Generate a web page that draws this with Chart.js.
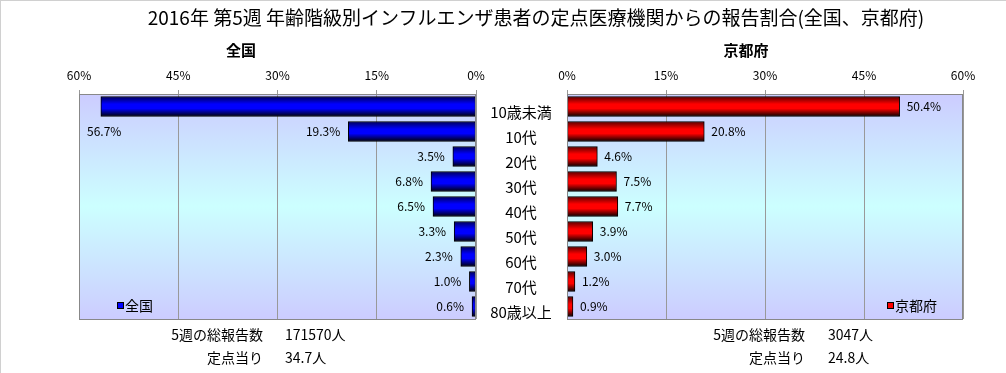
<!DOCTYPE html>
<html>
<head>
<meta charset="utf-8">
<script src="https://cdn.jsdelivr.net/npm/chart.js@4/dist/chart.umd.min.js"></script>
<style>
  body { margin: 0; background: #fff; }
  #wrap { position: relative; width: 1006px; height: 373px; overflow: hidden;
          font-family: "Noto Sans CJK JP", sans-serif; color: #000; }
  #wrap canvas { position: absolute; left: 0; top: 0; }
  .txt { position: absolute; white-space: nowrap; line-height: 1; }
  .frame { position: absolute; left: 0; top: 0; width: 1006px; height: 373px;
           border-top: 1px solid #d0d0d0; border-left: 1px solid #d0d0d0; box-sizing: border-box; }
</style>
</head>
<body>
<div id="wrap">
  <div class="frame"></div>
  <canvas id="left" width="1006" height="373"></canvas>
  <canvas id="right" width="1006" height="373"></canvas>
  <div class="txt" id="title" style="left:0;width:1072px;text-align:center;top:7px;font-size:19px;"></div>
  <div class="txt" id="subL" style="left:191px;width:100px;text-align:center;top:42px;font-size:15px;font-weight:bold;"></div>
  <div class="txt" id="subR" style="left:696px;width:100px;text-align:center;top:42px;font-size:15px;font-weight:bold;"></div>
  <div class="txt" id="sumL1" style="left:100px;width:163px;text-align:right;top:327px;font-size:14px;"></div>
  <div class="txt" id="valL1" style="left:285px;top:327px;font-size:14px;"></div>
  <div class="txt" id="sumL2" style="left:100px;width:163px;text-align:right;top:350px;font-size:14px;"></div>
  <div class="txt" id="valL2" style="left:285px;top:350px;font-size:14px;"></div>
  <div class="txt" id="sumR1" style="left:600px;width:205px;text-align:right;top:327px;font-size:14px;"></div>
  <div class="txt" id="valR1" style="left:828px;top:327px;font-size:14px;"></div>
  <div class="txt" id="sumR2" style="left:600px;width:205px;text-align:right;top:350px;font-size:14px;"></div>
  <div class="txt" id="valR2" style="left:828px;top:350px;font-size:14px;"></div>
</div>
<script>
// データ
const titulo = "2016年 第5週 年齢階級別インフルエンザ患者の定点医療機関からの報告割合(全国、京都府)";
const categorias = ["10歳未満", "10代", "20代", "30代", "40代", "50代", "60代", "70代", "80歳以上"];
const zenkoku = [56.7, 19.3, 3.5, 6.8, 6.5, 3.3, 2.3, 1.0, 0.6];
const kyoto = [50.4, 20.8, 4.6, 7.5, 7.7, 3.9, 3.0, 1.2, 0.9];
const etiquetasResumen = ["5週の総報告数", "定点当り"];
const resumenZenkoku = ["171570人", "34.7人"];
const resumenKyoto = ["3047人", "24.8人"];

const FONT = "Noto Sans CJK JP";

document.getElementById("title").textContent = titulo;
document.getElementById("subL").textContent = "全国";
document.getElementById("subR").textContent = "京都府";
document.getElementById("sumL1").textContent = etiquetasResumen[0];
document.getElementById("sumL2").textContent = etiquetasResumen[1];
document.getElementById("sumR1").textContent = etiquetasResumen[0];
document.getElementById("sumR2").textContent = etiquetasResumen[1];
document.getElementById("valL1").textContent = resumenZenkoku[0];
document.getElementById("valL2").textContent = resumenZenkoku[1];
document.getElementById("valR1").textContent = resumenKyoto[0];
document.getElementById("valR2").textContent = resumenKyoto[1];

// degradado vertical de cada barra (oscuro - brillante - oscuro)
function degradadoBarra(context, colores) {
  const chart = context.chart;
  if (!chart.chartArea || context.type !== "data") return colores[1];
  const y = chart.scales.y.getPixelForValue(context.dataIndex);
  const g = chart.ctx.createLinearGradient(0, y - 10, 0, y + 10);
  g.addColorStop(0, colores[0]);
  g.addColorStop(0.38, colores[1]);
  g.addColorStop(0.6, colores[1]);
  g.addColorStop(1, colores[2]);
  return g;
}

// fondo del área del gráfico + borde
const fondoPlugin = {
  id: "fondo",
  beforeDraw(chart) {
    const { ctx, chartArea: a } = chart;
    const g = ctx.createLinearGradient(0, a.top, 0, a.bottom);
    g.addColorStop(0, "#ccccff");
    g.addColorStop(0.5, "#ccffff");
    g.addColorStop(1, "#ccccff");
    ctx.save();
    ctx.fillStyle = g;
    ctx.fillRect(a.left, a.top, a.right - a.left, a.bottom - a.top);
    ctx.restore();
  },
  afterDraw(chart) {
    const { ctx, chartArea: a } = chart;
    ctx.save();
    ctx.strokeStyle = "#888888";
    ctx.lineWidth = 1;
    ctx.strokeRect(Math.round(a.left) + 0.5, Math.round(a.top) + 0.5,
      Math.round(a.right - a.left) - 1, Math.round(a.bottom - a.top));
    ctx.restore();
  }
};

// etiquetas de valores, leyenda y categorías
const etiquetasPlugin = {
  id: "etiquetas",
  afterDatasetsDraw(chart, args, opts) {
    const { ctx, chartArea: a } = chart;
    const ds = chart.data.datasets[0];
    const meta = chart.getDatasetMeta(0);
    ctx.save();
    ctx.font = "12px '" + FONT + "'";
    ctx.fillStyle = "#000";
    ctx.textBaseline = "middle";
    meta.data.forEach((bar, i) => {
      const txt = ds.data[i].toFixed(1) + "%";
      const w = ctx.measureText(txt).width;
      if (opts.lado === "izq") {
        if (bar.x - 8 - w < a.left) {
          ctx.textAlign = "left";
          ctx.fillText(txt, a.left + 8, bar.y + 25);
        } else {
          ctx.textAlign = "right";
          ctx.fillText(txt, bar.x - 8, bar.y);
        }
      } else {
        ctx.textAlign = "left";
        ctx.fillText(txt, bar.x + 7, bar.y);
      }
    });

    // leyenda dentro del área
    const lx = opts.lado === "izq" ? a.left + 38 : a.right - 76;
    const ly = a.bottom - 13;
    ctx.fillStyle = opts.colorLeyenda;
    ctx.fillRect(lx, ly - 3, 6, 6);
    ctx.strokeStyle = "#000";
    ctx.lineWidth = 1;
    ctx.strokeRect(lx + 0.5, ly - 3.5, 6, 6);
    ctx.fillStyle = "#000";
    ctx.textAlign = "left";
    ctx.font = "14px '" + FONT + "'";
    ctx.fillText(ds.label, lx + 8, ly);

    // categorías en el centro
    if (opts.categorias) {
      ctx.textAlign = "center";
      ctx.font = "15px '" + FONT + "'";
      chart.data.labels.forEach((lab, i) => {
        ctx.fillText(lab, 521, chart.scales.y.getPixelForValue(i) + 6);
      });
    }
    ctx.restore();
  }
};

function opcionesEje(reverso) {
  return {
    x: {
      position: "top",
      min: 0,
      max: 60,
      reverse: reverso,
      afterFit: s => { s.height = 34; },
      ticks: {
        stepSize: 15,
        padding: 7,
        color: "#000",
        font: { family: FONT, size: 12 },
        callback: v => v + "%"
      },
      grid: { color: "#999999", lineWidth: 1, tickLength: 4, drawTicks: true },
      border: { display: false }
    },
    y: {
      display: false,
      grid: { display: false }
    }
  };
}

new Chart(document.getElementById("left"), {
  type: "bar",
  data: {
    labels: categorias,
    datasets: [{
      label: "全国",
      data: zenkoku,
      backgroundColor: c => degradadoBarra(c, ["#000058", "#0000ff", "#000008"]),
      borderColor: "#000",
      borderWidth: 1,
      borderSkipped: false,
      barThickness: 20
    }]
  },
  options: {
    indexAxis: "y",
    responsive: false,
    animation: false,
    layout: { padding: { left: 79, right: 530, top: 60, bottom: 54 } },
    scales: opcionesEje(true),
    plugins: {
      legend: { display: false },
      tooltip: { enabled: false },
      etiquetas: { lado: "izq", colorLeyenda: "#0000ff", categorias: false }
    }
  },
  plugins: [fondoPlugin, etiquetasPlugin]
});

new Chart(document.getElementById("right"), {
  type: "bar",
  data: {
    labels: categorias,
    datasets: [{
      label: "京都府",
      data: kyoto,
      backgroundColor: c => degradadoBarra(c, ["#580000", "#ff0000", "#080000"]),
      borderColor: "#000",
      borderWidth: 1,
      borderSkipped: false,
      barThickness: 20
    }]
  },
  options: {
    indexAxis: "y",
    responsive: false,
    animation: false,
    layout: { padding: { left: 567, right: 43, top: 60, bottom: 54 } },
    scales: opcionesEje(false),
    plugins: {
      legend: { display: false },
      tooltip: { enabled: false },
      etiquetas: { lado: "der", colorLeyenda: "#ff0000", categorias: true }
    }
  },
  plugins: [fondoPlugin, etiquetasPlugin]
});
</script>
</body>
</html>
